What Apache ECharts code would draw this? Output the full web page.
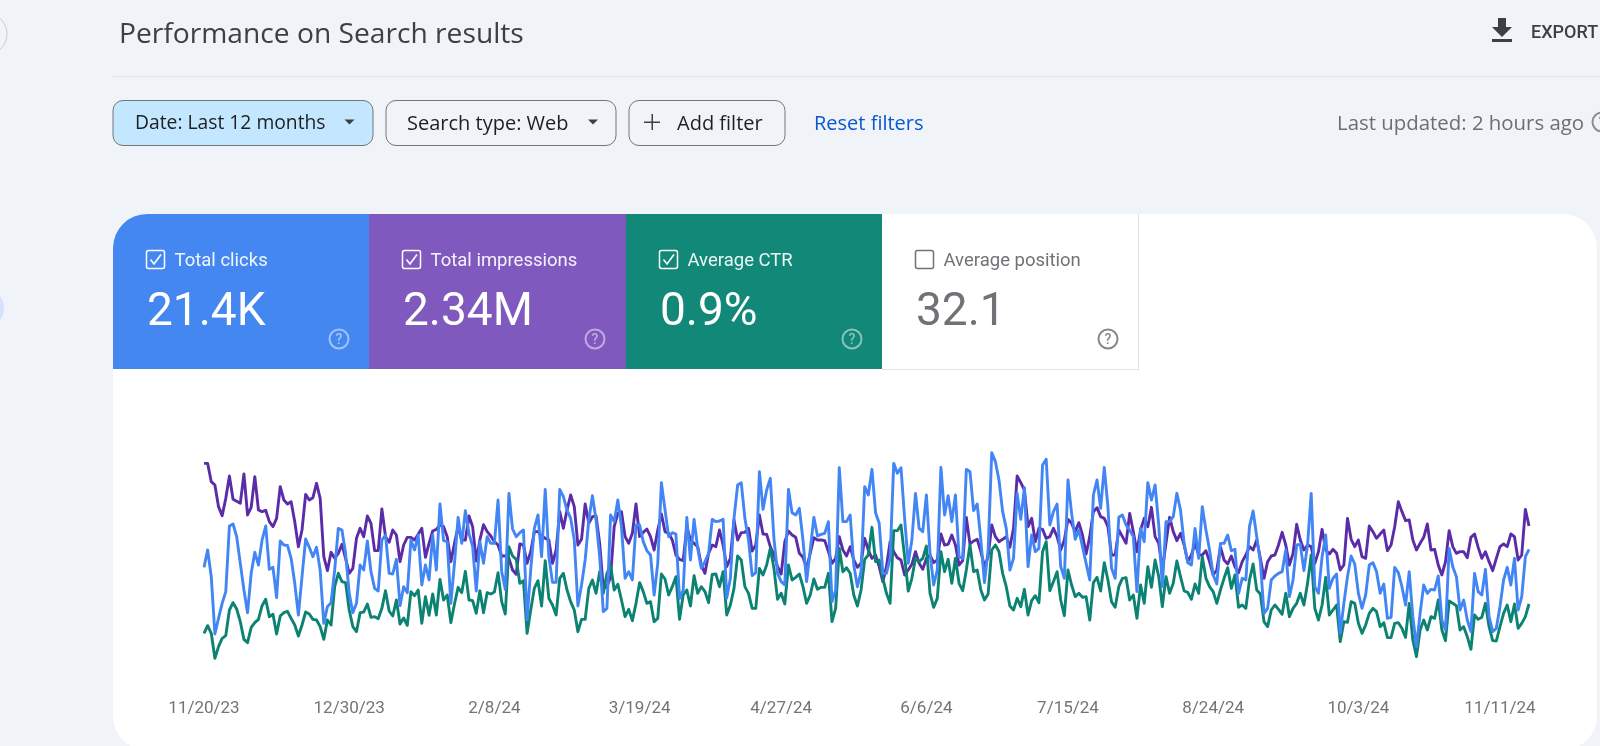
<!DOCTYPE html>
<html>
<head>
<meta charset="utf-8">
<title>Performance on Search results</title>
<script src="https://cdn.jsdelivr.net/npm/echarts@6/dist/echarts.min.js"></script>
<style>
html, body { margin: 0; padding: 0; background: #f0f4f9; overflow: hidden; }
#chart { width: 1600px; height: 746px; }
</style>
</head>
<body>
<div id="chart"></div>
<script>
// the report shows no y axis, so all series are read as height above the baseline
const clicks = [
  278,330,250,78,125,170,205,402,408,370,290,210,142,260,323,285,360,402,272,278,
  187,357,345,344,305,230,135,250,363,338,310,338,270,110,160,172,270,395,390,320,
  200,142,170,285,270,357,265,215,207,360,375,260,258,302,163,220,202,360,330,375,
  225,285,240,375,270,468,358,355,170,290,428,350,448,380,340,207,355,290,370,350,
  350,480,265,212,500,393,370,382,390,120,
  270,395,435,310,512,310,233,233,512,490,450,425,360,162,225,300,420,493,420,310,
  145,155,435,415,480,400,245,265,240,405,405,355,328,315,195,290,532,450,370,382,
  378,185,210,428,300,422,335,275,295,320,422,415,417,422,185,245,425,525,532,
  425,360,253,262,565,452,510,545,365,260,235,225,512,442,435,455,360,235,330,428,
  372,377,380,415,175,210,577,415,415,
  435,285,220,265,520,495,572,442,410,260,260,305,590,560,577,425,290,360,500,395,
  385,495,320,225,270,578,435,493,415,495,310,305,572,565,448,468,360,232,330,622,
  595,540,445,395,270,305,500,422,518,280,375,325,335,585,602,405,445,468,280,245,
  540,440,362,390,340,290,240,495,540,455,578,460,275,245,428,435,405,390,370,205,
  395,355,532,480,525,405,220,415,415,430,500,450,350,292,
  285,395,305,460,390,330,255,228,350,350,375,328,332,200,245,240,400,447,370,295,
  140,155,240,252,260,265,330,190,240,345,347,268,345,500,220,200,310,375,215,245,
  258,80,170,250,312,288,200,155,195,285,292,265,200,228,125,128,278,262,220,165,
  265,130,40,140,225,200,212,210,252,120,90,335,280,250,150,180,120,85,260,205,
  195,272,130,85,95,160,240,278,225,305,150,190,310,332
];
const impressions = [
  590,590,535,525,460,433,485,552,482,476,470,558,435,458,550,450,445,449,415,400,
  425,520,480,468,475,415,340,390,497,480,487,530,485,310,268,323,305,320,347,305,
  260,275,365,395,370,432,410,328,328,453,370,353,390,375,295,345,368,368,360,377,
  395,308,350,387,392,405,400,370,295,350,400,360,360,432,400,297,360,406,385,372,
  355,345,312,312,305,270,257,348,345,290,
  325,385,385,372,365,360,290,330,445,395,450,495,460,345,362,468,410,430,432,350,
  215,220,250,400,440,445,370,350,380,468,370,383,393,370,330,390,438,385,380,360,
  315,302,298,400,360,350,340,285,260,320,345,340,390,345,280,305,420,360,382,
  383,395,327,345,435,378,377,340,315,280,258,355,387,375,368,320,308,275,320,367,
  360,360,358,325,290,305,370,330,312,
  340,300,278,290,365,330,305,315,280,235,280,355,325,307,300,255,270,287,325,290,
  272,305,315,292,300,378,345,347,375,345,285,298,428,348,357,362,325,280,310,405,
  370,355,362,370,338,395,552,532,510,400,425,355,395,392,365,370,395,370,330,360,
  422,410,385,412,375,318,370,445,457,430,425,400,315,315,390,370,350,440,385,325,
  390,425,400,458,370,350,270,350,428,385,358,380,345,295,
  315,350,315,315,328,295,255,270,340,300,288,312,280,262,295,315,340,330,360,305,
  245,295,312,315,345,383,345,285,320,407,360,330,345,340,290,325,392,330,318,332,
  320,270,285,425,362,340,360,310,305,402,385,365,378,390,328,345,400,475,445,418,
  420,360,330,350,368,408,330,332,285,255,295,388,340,320,325,325,307,368,378,338,
  305,325,295,268,305,340,348,340,378,370,300,315,452,402
];
const ctr = [
  80,103,80,5,40,65,73,150,172,153,115,62,52,98,112,122,163,182,130,137,
  78,132,142,146,125,105,72,105,144,138,122,120,100,62,120,105,220,260,235,232,
  150,100,85,142,144,168,128,130,124,155,208,147,132,180,108,126,104,205,193,210,
  110,190,134,198,135,242,180,195,112,168,218,202,266,180,178,140,208,142,202,198,
  204,262,175,138,340,312,302,230,238,80,
  150,215,238,162,298,185,165,135,245,260,210,175,150,85,122,122,215,240,200,265,
  200,260,285,210,227,180,130,152,118,170,232,205,170,175,115,125,258,243,195,220,
  250,122,195,210,162,253,200,220,205,172,257,258,220,265,135,165,215,312,300,
  220,200,155,155,275,255,285,335,275,182,200,168,285,240,248,258,220,170,195,243,
  212,218,218,260,115,155,335,265,277,
  260,195,162,210,302,315,398,295,300,245,200,170,388,388,405,310,207,245,305,295,
  305,342,200,158,185,325,265,302,230,305,230,208,270,345,265,270,210,180,198,330,
  345,325,260,220,162,150,185,160,212,135,178,193,172,325,355,208,235,265,180,133,
  270,225,190,200,188,190,120,232,248,207,292,240,175,158,220,245,247,180,195,125,
  225,170,280,218,300,250,160,250,200,230,297,250,207,203,
  182,228,200,310,245,220,205,170,210,245,277,215,255,158,165,155,240,288,210,198,
  115,100,150,165,152,137,200,130,155,170,200,165,230,315,155,120,165,248,135,150,
  165,55,115,113,175,170,110,80,105,140,155,145,100,112,67,67,110,112,95,68,
  170,60,10,90,120,90,130,125,180,90,58,177,170,163,90,100,70,32,135,122,
  128,170,100,58,57,100,140,165,115,168,95,110,130,168
];
const tickLabels = ['11/20/23','12/30/23','2/8/24','3/19/24','4/27/24','6/6/24','7/15/24','8/24/24','10/3/24','11/11/24'];

const tiles = [
  { label: 'Total clicks', value: '21.4K', fill: '#4587f1', checked: true },
  { label: 'Total impressions', value: '2.34M', fill: '#7f59be', checked: true },
  { label: 'Average CTR', value: '0.9%', fill: '#128878', checked: true },
  { label: 'Average position', value: '32.1', fill: '#ffffff', checked: false }
];

// one label per day, 11/20/23 onwards
const dates = clicks.map((_, i) => {
  const d = new Date(Date.UTC(2023, 10, 20 + i));
  return (d.getUTCMonth() + 1) + '/' + d.getUTCDate() + '/' + String(d.getUTCFullYear()).slice(2);
});

const FONT = 'Roboto, sans-serif';
const HEAD_FONT = '"Open Sans", sans-serif';

function txt(x, y, text, size, fill, weight, extra, family) {
  return {
    type: 'text',
    style: Object.assign({
      x, y, text, fill,
      font: (weight || 400) + ' ' + size + 'px ' + (family || FONT),
      verticalAlign: 'middle'
    }, extra)
  };
}

function box(x, y, w, h, r, fill, stroke) {
  return {
    type: 'rect',
    shape: { x, y, width: w, height: h, r },
    style: { fill: fill || 'none', stroke: stroke || 'none', lineWidth: 1 }
  };
}

function tri(cx, cy) {
  return {
    type: 'polygon',
    shape: { points: [[cx - 5, cy - 2.5], [cx + 5, cy - 2.5], [cx, cy + 2.5]] },
    style: { fill: '#3c4043' }
  };
}

function helpIcon(cx, cy, color) {
  return [
    { type: 'circle', shape: { cx, cy, r: 9.5 }, style: { fill: 'none', stroke: color, lineWidth: 2 } },
    txt(cx, cy + 1, '?', 14, color, 500, { align: 'center' })
  ];
}

const graphics = [
  // stray bits of the sidebar at the left edge
  { type: 'circle', shape: { cx: -14, cy: 34, r: 21 }, style: { fill: 'none', stroke: '#c9ccd0', lineWidth: 1 } },
  { type: 'circle', shape: { cx: -16, cy: 308, r: 20 }, style: { fill: '#d3e3fd' } },

  txt(119, 35, 'Performance on Search results', 28.2, '#3c4043', 400, null, HEAD_FONT),
  { type: 'rect', shape: { x: 112, y: 76, width: 1488, height: 1 }, style: { fill: '#dfe3e8' } },

  // export
  { type: 'polygon', shape: { points: [[1498, 18], [1506, 18], [1506, 27], [1512, 27], [1502, 37], [1492, 27], [1498, 27]] }, style: { fill: '#3c4043' } },
  { type: 'rect', shape: { x: 1492, y: 39, width: 20, height: 3 }, style: { fill: '#3c4043' } },
  txt(1531, 33, 'EXPORT', 18, '#3c4043', 500, { letterSpacing: 1.6 }),

  // filter bar
  box(113, 100.5, 260, 45, 10, '#c2e7ff', '#747775'),
  txt(135, 124, 'Date: Last 12 months', 19.3, '#1f1f1f', 500, null, HEAD_FONT),
  tri(349.5, 122),
  box(386, 100.5, 230, 45, 10, '#f0f4f9', '#747775'),
  txt(407, 124, 'Search type: Web', 20, '#1f1f1f', 500, null, HEAD_FONT),
  tri(593, 122),
  box(629, 100.5, 156, 45, 10, '#f0f4f9', '#747775'),
  { type: 'rect', shape: { x: 644, y: 121.5, width: 16, height: 1.5 }, style: { fill: '#3c4043' } },
  { type: 'rect', shape: { x: 651.5, y: 114, width: 1.5, height: 16 }, style: { fill: '#3c4043' } },
  txt(677, 124, 'Add filter', 20, '#1f1f1f', 500, null, HEAD_FONT),
  txt(814, 124, 'Reset filters', 20, '#0b57d0', 500, null, HEAD_FONT),
  txt(1337, 124, 'Last updated: 2 hours ago', 20.4, '#6b6f73', 400, null, HEAD_FONT),
  ...helpIcon(1602, 122, '#8a8d90'),

  // white card behind tiles and chart
  { type: 'rect', shape: { x: 113, y: 214, width: 1484, height: 536, r: 34 }, style: { fill: '#ffffff' } },
];

const tileLeft = [113, 369, 626, 882];
const tileRight = [369, 626, 882, 1138];
tiles.forEach((t, i) => {
  const x = tileLeft[i];
  const w = tileRight[i] - x;
  const fg = t.checked ? '#ffffff' : '#6f7276';
  graphics.push({
    type: 'rect',
    shape: { x, y: 214, width: w, height: 155, r: i === 0 ? [34, 0, 0, 0] : 0 },
    style: { fill: t.fill }
  });
  graphics.push({
    type: 'rect',
    shape: { x: x + 33.5, y: 250.5, width: 18, height: 18, r: 2 },
    style: { fill: 'none', stroke: fg, lineWidth: 1.5 }
  });
  if (t.checked) {
    graphics.push({
      type: 'polyline',
      shape: { points: [[x + 37.5, 259.5], [x + 41, 264], [x + 48, 254.5]] },
      style: { fill: 'none', stroke: fg, lineWidth: 1.6 }
    });
  }
  graphics.push(txt(x + 61.5, 261, t.label, 18.5, t.checked ? 'rgba(255,255,255,0.92)' : '#6f7276'));
  graphics.push(txt(x + 34, 313, t.value, 46, fg));
  graphics.push(...helpIcon(x + 226, 339, t.checked ? 'rgba(255,255,255,0.5)' : '#85888b'));
});
// hairlines around the unchecked tile
graphics.push({ type: 'rect', shape: { x: 1138, y: 214, width: 1, height: 156 }, style: { fill: '#e3e3e3' } });
graphics.push({ type: 'rect', shape: { x: 882, y: 369, width: 257, height: 1 }, style: { fill: '#e3e3e3' } });

const chart = echarts.init(document.getElementById('chart'));
chart.setOption({
  animation: false,
  backgroundColor: '#f0f4f9',
  graphic: { elements: graphics },
  grid: { left: 204, top: 430, width: 1325, height: 230 },
  xAxis: {
    type: 'category',
    data: dates,
    boundaryGap: false,
    z: 3,
    axisLine: { show: false },
    axisTick: { show: false },
    splitLine: { show: false },
    axisLabel: {
      interval: (idx, val) => tickLabels.includes(val),
      hideOverlap: false,
      margin: 40,
      fontFamily: FONT,
      fontSize: 17,
      color: '#70757a'
    }
  },
  yAxis: { type: 'value', min: 0, max: 690, show: false },
  series: [
    { name: 'Total impressions', data: impressions, color: '#5a2ca8' },
    { name: 'Average CTR', data: ctr, color: '#0b8272' },
    { name: 'Total clicks', data: clicks, color: '#4285f4' }
  ].map(s => Object.assign({
    type: 'line',
    showSymbol: false,
    smooth: false,
    lineStyle: { width: 2.9, join: 'round' }
  }, s))
});
</script>
</body>
</html>
